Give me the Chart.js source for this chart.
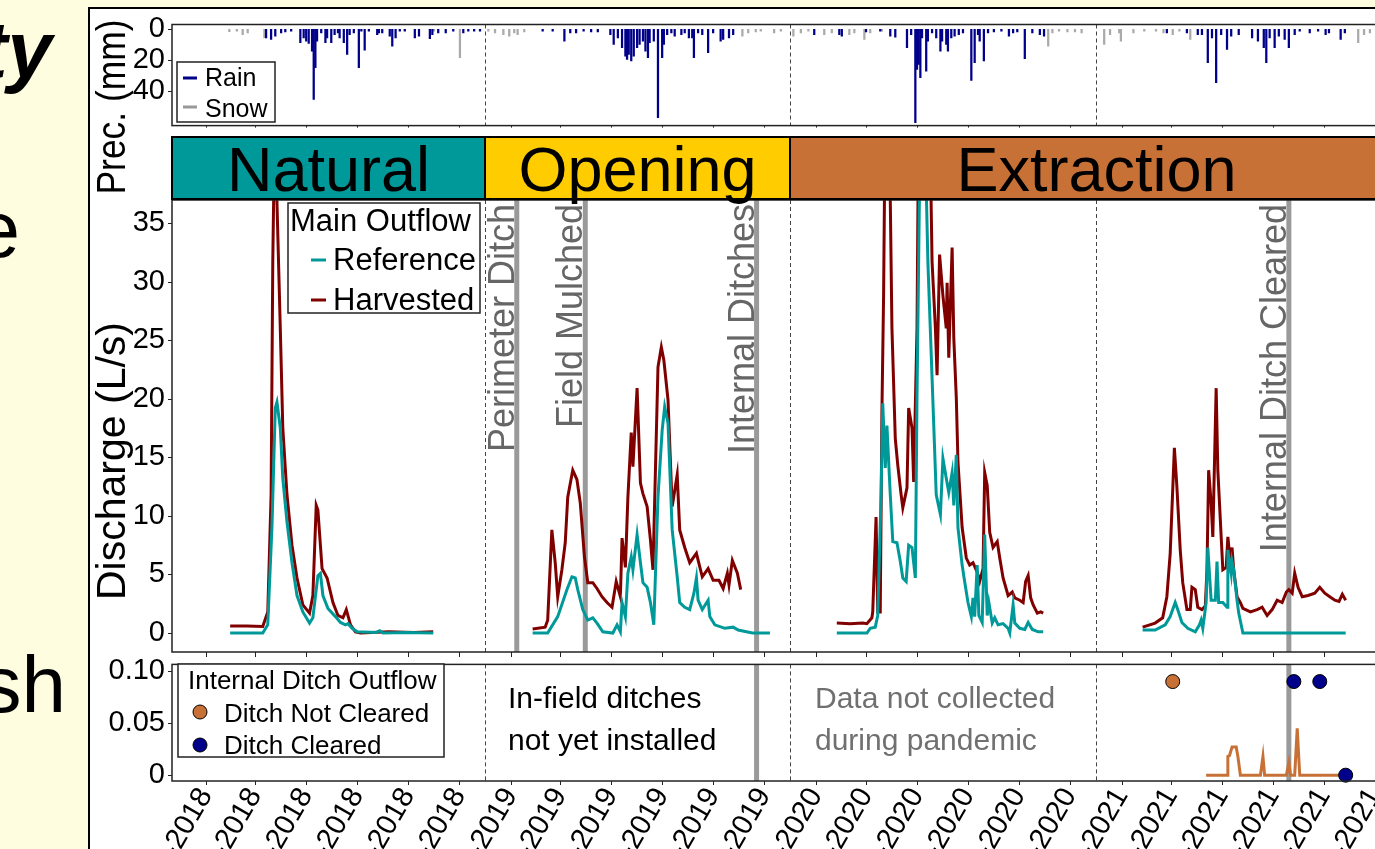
<!DOCTYPE html>
<html>
<head>
<meta charset="utf-8">
<script src="https://cdn.jsdelivr.net/npm/chart.js@4.4.1/dist/chart.umd.min.js"></script>
<style>
  html, body { margin: 0; padding: 0; overflow: hidden; background: #fffde0; }
  #wrap { position: relative; width: 1375px; height: 849px; overflow: hidden; background: #fffde0;
          font-family: "Liberation Sans", Arial, sans-serif; }
  #fig { position: absolute; left: 88px; top: 7px; width: 1400px; height: 900px; background: #fff;
         border-left: 2px solid #000; border-top: 2px solid #000; }
  canvas { position: absolute; left: 0; }
  .slide { position: absolute; left: -400px; font-size: 80px; line-height: 80px; color: #000;
           white-space: nowrap; text-align: right; }
</style>
</head>
<body>
<div id="wrap">
  <div class="slide" style="top:10px; width:452px; font-weight:bold; font-style:italic;">ty</div>
  <div class="slide" style="top:190px; width:420px;">e</div>
  <div class="slide" style="top:645px; width:466px;">sh</div>
  <div id="fig"></div>
  <canvas id="precip" width="1420" height="150" style="top:0"></canvas>
  <canvas id="main" width="1420" height="680" style="top:0"></canvas>
  <canvas id="ditch" width="1420" height="300" style="top:640px"></canvas>
</div>
<script>
// x values are days since 1 Jan 2018
const DAY0 = Date.UTC(2018, 0, 1);
function dayOf(s) {
  const [y, m, d] = s.split('-').map(Number);
  return (Date.UTC(y, m - 1, d) - DAY0) / 864e5;
}
const X_MIN = -9.6, X_MAX = 1463.6;

const xTickDates = ['2018-02-01', '2018-04-01', '2018-06-01', '2018-08-01', '2018-10-01', '2018-12-01',
                    '2019-02-01', '2019-04-01', '2019-06-01', '2019-08-01', '2019-10-01', '2019-12-01',
                    '2020-02-01', '2020-04-01', '2020-06-01', '2020-08-01', '2020-10-01', '2020-12-01',
                    '2021-02-01', '2021-04-01', '2021-06-01', '2021-08-01', '2021-10-01', '2021-12-01'];
const xTickLabels = ['Feb-2018', 'Apr-2018', 'Jun-2018', 'Aug-2018', 'Oct-2018', 'Dec-2018',
                     'Feb-2019', 'Apr-2019', 'Jun-2019', 'Aug-2019', 'Oct-2019', 'Dec-2019',
                     'Feb-2020', 'Apr-2020', 'Jun-2020', 'Aug-2020', 'Oct-2020', 'Dec-2020',
                     'Feb-2021', 'Apr-2021', 'Jun-2021', 'Aug-2021', 'Oct-2021', 'Dec-2021'];
const yearLines = ['2019-01-01', '2020-01-01', '2021-01-01'];

const phaseLabels = ['Natural', 'Opening', 'Extraction'];
const phaseColors = ['#009999', '#ffcc00', '#c87137'];
const phaseEnds = ['2019-01-01', '2020-01-01', '2022-01-04'];

const eventLabels = ['Perimeter Ditch', 'Field Mulched', 'Internal Ditches', 'Internal Ditch Cleared'];
const eventDates = ['2019-02-08', '2019-05-01', '2019-11-22', '2021-08-20'];
const eventInDitchPanel = [false, false, true, true];

const precTicks = [0, 20, 40];
const qTicks = [0, 5, 10, 15, 20, 25, 30, 35];
const ditchTicks = [0, 0.05, 0.1];

// daily precipitation (mm) [day, mm]
const rain = [
  [103, 5.4], [109, 6.5], [114, 4.3], [121, 2.2], [126, 1.6], [133, 1.1], [144, 8.6], [148, 5.4], [151, 7.5],
  [154, 9.1], [158, 14], [160, 45.2], [162, 24.7], [164, 7.5], [169, 2.2], [174, 8.6], [176, 5.4], [181, 8.6],
  [185, 3.3], [189, 2.2], [191, 5.4], [196, 8.6], [200, 16.1], [203, 3.3], [208, 2.2], [214, 24.7], [217, 1.1],
  [221, 13.4], [226, 1.1], [236, 3.3], [238, 2.2], [242, 2.2], [251, 4.3], [254, 10.8], [258, 5.4], [263, 1.1],
  [269, 1.1], [281, 5.4], [286, 4.3], [299, 5.9], [302, 3.3], [309, 2.2], [318, 2.2], [327, 1.1], [339, 2.2],
  [345, 1.1], [352, 1.1], [359, 1.1],
  [434, 1.1], [446, 1.1], [460, 7.5], [467, 2.2], [474, 2.2], [483, 1.1], [492, 1.6], [500, 1.6], [515, 3.3],
  [519, 9.7], [524, 5.4], [529, 11.8], [533, 17.2], [535, 19.4], [537, 16.1], [540, 20.4], [543, 17.2],
  [547, 11.8], [550, 9.7], [554, 7.5], [557, 14], [560, 18.3], [562, 8.6], [567, 7.5], [572, 57], [577, 18.3],
  [579, 9.7], [583, 3.3], [588, 2.2], [592, 4.3], [600, 3.3], [604, 2.2], [609, 5.4], [613, 5.4], [615, 18.3],
  [620, 2.2], [625, 3.3], [632, 15], [638, 2.2], [647, 7.5], [650, 6.5], [657, 5.4], [662, 3.3],
  [759, 3.3], [789, 3.3], [792, 4.3], [821, 1.6], [838, 1.1], [850, 4.3], [856, 5], [870, 11.8], [875, 3.3],
  [880, 60.2], [882, 25.8], [884, 22.6], [886, 31.2], [888, 5.4], [893, 26.9], [895, 7.5], [900, 2.2],
  [905, 5.4], [910, 14], [912, 7.5], [917, 9.7], [919, 14], [923, 5.4], [927, 4.3], [932, 3.3], [937, 2.2],
  [947, 32.9], [951, 21.5], [955, 3.3], [957, 7.5], [962, 20.4], [967, 2.2], [974, 1.6], [983, 1.1],
  [992, 4.3], [997, 2.2], [1002, 1.6], [1011, 18.9], [1020, 2.2], [1029, 3.3], [1034, 4.3],
  [1181, 2.2], [1205, 2.2], [1218, 3.3], [1223, 3.3], [1230, 21.5], [1235, 5.4], [1240, 34.4], [1246, 3.3],
  [1253, 12.9], [1258, 4.3], [1267, 3.3], [1283, 5.4], [1290, 7.5], [1297, 11.8], [1300, 21.5], [1304, 5.4],
  [1310, 11.8], [1315, 4.3], [1322, 6.5], [1327, 11.8], [1334, 3.3], [1340, 1.1], [1352, 2.2], [1362, 1.1],
  [1371, 3.3], [1375, 2.2], [1389, 6.5], [1394, 2.2]
];
const snow = [
  [59, 1.5], [68, 1.1], [75, 3.3], [81, 2.2], [101, 5.4], [304, 1.1], [335, 18.3],
  [369, 1.1], [377, 2.2], [387, 3.3], [394, 4.3], [400, 2.2], [404, 3.3], [412, 1.6],
  [673, 4.3], [680, 2.2], [689, 1.6], [695, 1.1],
  [711, 2.2], [719, 1.1], [734, 4.3], [743, 2.2], [752, 1.1], [771, 3.3], [780, 2.2], [801, 3.3], [807, 2.2],
  [819, 6.5], [826, 2.2], [840, 1.1], [1039, 10.8], [1044, 2.2], [1052, 1.1], [1062, 1.6], [1071, 1.6], [1079, 2.2],
  [1106, 9.7], [1113, 3.3], [1124, 2.2], [1126, 7.5], [1141, 2.2], [1154, 1.1], [1168, 1.1], [1177, 2.2],
  [1188, 3.3], [1196, 1.1], [1209, 6.5], [1410, 8.6], [1417, 3.3], [1424, 2.2]
];

// main outflow discharge (L/s) [day, value]
const ref2018 = [[60, 0], [99, 0], [105, 0.7], [110, 9], [114, 19.2], [116, 19.7], [120, 17.5], [123, 13.2],
  [128, 9.5], [134, 6], [140, 3.2], [147, 1.8], [155, 0.85], [159, 1.3], [165, 4.9], [168, 5.1], [171, 3.2],
  [177, 2.1], [186, 1.4], [192, 0.9], [198, 0.7], [201, 0.8], [206, 0.4], [212, 0.1], [235, 0.05], [239, 0.2],
  [243, 0], [270, 0.05], [303, 0]];
const harv2018 = [[60, 0.6], [80, 0.6], [99, 0.55], [105, 1.8], [109, 11.8], [111, 31.6], [113, 42], [115, 44],
  [116, 36.8], [120, 26], [123, 17.5], [128, 11.8], [134, 7.5], [140, 4.7], [147, 2.4], [155, 1.7], [159, 3.2],
  [163, 10.9], [165, 10.5], [170, 5.5], [176, 4.7], [183, 2.6], [189, 1.5], [195, 1.3], [199, 2], [204, 0.7],
  [210, 0.1], [216, 0], [250, 0.1], [280, 0.05], [303, 0.1]];
const ref2019 = [[422, 0], [440, 0], [452, 1.4], [463, 3.7], [469, 4.8], [473, 4.7], [476, 3.7], [482, 2],
  [488, 1.1], [494, 1.3], [499, 0.85], [506, 0.1], [518, 0], [523, 0.7], [527, 0.1], [529, 2.6], [533, 1.4],
  [536, 5.1], [540, 6.5], [542, 5.4], [547, 8.4], [551, 6], [554, 4.3], [559, 3.9], [563, 2.6], [567, 0.7],
  [572, 11.6], [577, 17.3], [580, 19.3], [584, 17.9], [589, 8.8], [595, 4.8], [598, 2.6], [604, 2.2], [610, 2],
  [615, 3.4], [618, 4.7], [620, 2.8], [625, 2], [632, 2.8], [634, 1.4], [640, 0.7], [652, 0.4], [662, 0.5],
  [668, 0.25], [685, 0], [706, 0]];
const harv2019 = [[422, 0.35], [437, 0.5], [440, 1.1], [445, 8.8], [449, 6], [452, 3.1], [457, 5.4], [461, 7.7],
  [464, 11.6], [470, 13.9], [475, 13.1], [479, 11.1], [484, 6.5], [488, 4.3], [494, 4.3], [499, 3.8], [505, 3.1],
  [511, 2.6], [517, 2.2], [522, 4.4], [527, 3.1], [529, 8.1], [533, 5.6], [536, 11.6], [540, 17.1], [542, 14.2],
  [547, 20.9], [551, 12.8], [554, 11.9], [559, 10.8], [563, 7.9], [566, 5.4], [572, 22.7], [576, 24.4],
  [579, 23.3], [584, 19.9], [589, 10.8], [595, 13.5], [598, 8.8], [604, 7.3], [610, 6], [618, 6.8], [625, 4.8],
  [632, 5.5], [638, 4.5], [645, 4.5], [650, 3.8], [655, 5.1], [657, 4.1], [661, 6.2], [667, 5.1], [671, 3.7]];
const ref2020 = [[786, 0], [822, 0], [826, 0.4], [832, 0.5], [835, 1.5], [839, 11.8], [841, 19.6], [844, 14.1],
  [846, 17.7], [850, 11.8], [853, 7.8], [858, 7.7], [862, 6.1], [865, 4.7], [869, 4.4], [872, 7.5], [876, 7.3],
  [880, 4.7], [882, 20.3], [885, 38], [889, 45], [893, 38], [895, 31.7], [900, 21.8], [905, 11.8], [910, 10.1],
  [913, 14.9], [917, 13.2], [920, 12], [924, 13.7], [926, 10.9], [929, 15.2], [931, 9], [936, 5.8], [939, 4.4],
  [943, 2.6], [947, 1.4], [949, 3], [951, 1.4], [954, 5.8], [956, 1.5], [960, 0.9], [963, 8.4], [966, 1.5],
  [968, 2.6], [972, 0.85], [975, 1.3], [979, 0.7], [985, 0.8], [991, 0.4], [993, 0], [997, 2.4], [999, 0.85],
  [1005, 0.4], [1011, 0.3], [1015, 0.9], [1020, 0.3], [1027, 0.1], [1033, 0.1]];
const harv2020 = [[786, 0.85], [802, 0.8], [817, 0.85], [822, 0.8], [828, 1.3], [829, 1.8], [833, 9.9],
  [835, 1.8], [838, 1.8], [840, 18.9], [842, 28.8], [844, 45], [848, 48], [852, 26], [856, 16.6], [859, 14.3],
  [863, 11.8], [865, 10.7], [870, 12.4], [872, 19.2], [876, 17.5], [878, 12.9], [882, 26], [884, 45], [890, 55],
  [897, 45], [900, 31.7], [904, 26], [906, 22], [909, 32.3], [913, 28.8], [917, 26], [918, 29.9], [920, 23.5],
  [924, 32.9], [926, 25.2], [929, 20.1], [931, 14.6], [936, 9], [941, 6.4], [945, 5.8], [949, 6], [954, 5.2],
  [957, 4.4], [961, 5.5], [963, 13.7], [966, 12.6], [969, 8.6], [973, 7.3], [978, 7.8], [981, 6.4], [985, 4.7],
  [991, 3.2], [996, 3.5], [999, 3], [1005, 2.8], [1009, 2.6], [1012, 4.4], [1015, 4.9], [1018, 3], [1021, 2.4],
  [1026, 1.7], [1030, 1.8], [1033, 1.7]];
const ref2021 = [[1152, 0.25], [1167, 0.25], [1179, 0.7], [1185, 1.4], [1191, 2.6], [1194, 2], [1199, 0.9],
  [1206, 0.4], [1215, 0.1], [1220, 0.7], [1222, 1.1], [1224, 0.4], [1228, 2.6], [1230, 7.3], [1234, 2.8],
  [1239, 2.8], [1241, 6.1], [1243, 2.6], [1248, 2.6], [1253, 2.2], [1254, 7.1], [1258, 5.1], [1259, 6.1],
  [1261, 5.4], [1265, 2.8], [1267, 1.7], [1272, 0], [1395, 0]];
const harv2021 = [[1152, 0.5], [1167, 0.85], [1176, 1.3], [1181, 3.1], [1185, 6.8], [1190, 15.8], [1193, 12.5],
  [1197, 7.1], [1200, 4.3], [1205, 2], [1209, 2], [1211, 3.9], [1215, 3.7], [1218, 2.2], [1223, 2], [1227, 2.3],
  [1229, 5.4], [1231, 13.9], [1234, 11.1], [1236, 8.2], [1240, 20.9], [1242, 13.9], [1246, 8.2], [1248, 5.4],
  [1252, 5.6], [1254, 8.2], [1257, 6], [1259, 7.3], [1261, 5.4], [1265, 3.1], [1269, 2.6], [1272, 2.1],
  [1281, 1.8], [1289, 2], [1295, 2.2], [1301, 1.5], [1307, 2], [1313, 2.8], [1319, 2.6], [1324, 3.5],
  [1327, 3.7], [1331, 3.4], [1334, 5.1], [1338, 3.9], [1343, 3.1], [1350, 3.2], [1358, 3.4], [1364, 3.9],
  [1370, 3.4], [1376, 3.1], [1382, 2.8], [1387, 2.7], [1391, 3.3], [1395, 2.8]];

// internal ditch outflow (L/s)
const ditchNotClearedLine = [[1228, 0], [1253, 0], [1254, 0.018], [1256, 0.019], [1259, 0.027], [1264, 0.027],
  [1266, 0.018], [1269, 0], [1293, 0], [1296, 0.018], [1298, 0], [1324, 0], [1327, 0.012], [1329, 0],
  [1334, 0], [1337, 0.045], [1340, 0], [1388, 0]];
const ditchNotClearedPts = [[1188, 0.09]];
const ditchClearedPts = [[1333, 0.09], [1364, 0.09], [1395, 0]];

const FONT = '"Liberation Sans", Arial, sans-serif';
const TEAL = '#009999', MAROON = '#800000', NAVY = '#00008b', ORANGE = '#c87137';

function pts(arr) { return arr.map(([x, y]) => ({ x: x, y: y })); }
function seasons(list) {
  let out = [];
  list.forEach((s, i) => {
    if (i > 0) out.push({ x: s[0][0] - 1, y: null });
    out = out.concat(pts(s));
  });
  return out;
}
function fixWidth(scale) { scale.width = 172; }
function fixedTicks(values) { return scale => { scale.ticks = values.map(v => ({ value: v })); }; }
function xOf(chart, day) { return chart.scales.x.getPixelForValue(day); }

function drawYearLines(chart) {
  const { ctx, chartArea: a } = chart;
  ctx.save();
  ctx.strokeStyle = '#444';
  ctx.lineWidth = 1;
  ctx.setLineDash([4, 3]);
  yearLines.forEach(d => {
    const x = Math.round(xOf(chart, dayOf(d))) + 0.5;
    ctx.beginPath(); ctx.moveTo(x, a.top); ctx.lineTo(x, a.bottom); ctx.stroke();
  });
  ctx.restore();
}
function drawEventLines(chart, onlyDitch) {
  const { ctx, chartArea: a } = chart;
  ctx.save();
  ctx.strokeStyle = '#9a9a9a';
  ctx.lineWidth = 5;
  eventDates.forEach((d, i) => {
    if (onlyDitch && !eventInDitchPanel[i]) return;
    const x = xOf(chart, dayOf(d));
    ctx.beginPath(); ctx.moveTo(x, a.top); ctx.lineTo(x, a.bottom); ctx.stroke();
  });
  ctx.restore();
}
function drawFrame(chart, ticksDown, yTicks) {
  const { ctx, chartArea: a } = chart;
  ctx.save();
  ctx.strokeStyle = '#222';
  ctx.lineWidth = 1.5;
  ctx.strokeRect(a.left, a.top, a.right - a.left, a.bottom - a.top);
  ctx.lineWidth = 1;
  ctx.beginPath();
  xTickDates.forEach(d => {
    const x = Math.round(xOf(chart, dayOf(d))) + 0.5;
    ctx.moveTo(x, a.bottom); ctx.lineTo(x, a.bottom + ticksDown);
  });
  yTicks.forEach(v => {
    const y = Math.round(chart.scales.y.getPixelForValue(v)) + 0.5;
    ctx.moveTo(a.left - 4, y); ctx.lineTo(a.left, y);
  });
  ctx.stroke();
  ctx.restore();
}
function legendBox(ctx, x, y, w, h) {
  ctx.fillStyle = '#fff';
  ctx.fillRect(x, y, w, h);
  ctx.strokeStyle = '#222';
  ctx.lineWidth = 1.5;
  ctx.strokeRect(x, y, w, h);
}
function dash(ctx, x1, x2, y, color) {
  ctx.strokeStyle = color;
  ctx.lineWidth = 3;
  ctx.beginPath(); ctx.moveTo(x1, y); ctx.lineTo(x2, y); ctx.stroke();
}
function fittedVertical(ctx, text, cx, cy, len, size) {
  ctx.save();
  ctx.font = size + 'px ' + FONT;
  const w = ctx.measureText(text).width;
  ctx.translate(cx, cy);
  ctx.rotate(-Math.PI / 2);
  ctx.scale(len / w, 1);
  ctx.fillStyle = '#000';
  ctx.textAlign = 'center';
  ctx.textBaseline = 'alphabetic';
  ctx.fillText(text, 0, 0);
  ctx.restore();
}

const commonX = { type: 'linear', min: X_MIN, max: X_MAX, display: false, offset: false };
const yTickFont = { size: 29, family: FONT };

// ---------- precipitation ----------
new Chart(document.getElementById('precip'), {
  type: 'bar',
  data: {
    datasets: [
      { label: 'Rain', data: pts(rain), backgroundColor: NAVY, barThickness: 1.6 },
      { label: 'Snow', data: pts(snow), backgroundColor: '#aaaaaa', barThickness: 1.6 }
    ]
  },
  options: {
    responsive: false,
    animation: false,
    layout: { padding: { top: 24.5, bottom: 23.5, left: 0, right: 17 } },
    plugins: { legend: { display: false }, tooltip: { enabled: false } },
    datasets: { bar: { grouped: false } },
    scales: {
      x: commonX,
      y: {
        reverse: true, min: -3.2, max: 62.1,
        afterFit: fixWidth, afterBuildTicks: fixedTicks(precTicks),
        grid: { display: false, drawTicks: false }, border: { display: false },
        ticks: { font: yTickFont, color: '#000', padding: 7 }
      }
    }
  },
  plugins: [{
    id: 'precDeco',
    beforeDatasetsDraw(chart) { drawYearLines(chart); },
    afterDraw(chart) {
      const ctx = chart.ctx;
      drawFrame(chart, 2, precTicks);
      ctx.save();
      legendBox(ctx, 177, 62, 98, 60);
      dash(ctx, 183, 197, 78, NAVY);
      dash(ctx, 183, 197, 107, '#999');
      ctx.fillStyle = '#000';
      ctx.font = '25px ' + FONT;
      ctx.fillText('Rain', 205, 86);
      ctx.fillText('Snow', 205, 117);
      ctx.restore();
    }
  }]
});

// ---------- main outflow discharge ----------
new Chart(document.getElementById('main'), {
  type: 'line',
  data: {
    datasets: [
      { label: 'Reference', data: seasons([ref2018, ref2019, ref2020, ref2021]), borderColor: TEAL },
      { label: 'Harvested', data: seasons([harv2018, harv2019, harv2020, harv2021]), borderColor: MAROON }
    ]
  },
  options: {
    responsive: false,
    animation: false,
    layout: { padding: { top: 200, bottom: 28, left: 0, right: 17 } },
    plugins: { legend: { display: false }, tooltip: { enabled: false } },
    elements: { point: { radius: 0 }, line: { borderWidth: 3, tension: 0 } },
    spanGaps: false,
    scales: {
      x: commonX,
      y: {
        min: -1.62, max: 36.96,
        afterFit: fixWidth, afterBuildTicks: fixedTicks(qTicks),
        grid: { display: false, drawTicks: false }, border: { display: false },
        ticks: { font: yTickFont, color: '#000', padding: 7 }
      }
    }
  },
  plugins: [{
    id: 'mainDeco',
    beforeDatasetsDraw(chart) {
      drawYearLines(chart);
      drawEventLines(chart, false);
    },
    afterDraw(chart) {
      const { ctx, chartArea: a } = chart;
      drawFrame(chart, 5, qTicks);
      ctx.save();
      // phase band
      let start = a.left;
      phaseLabels.forEach((lab, i) => {
        const end = Math.min(xOf(chart, dayOf(phaseEnds[i])), a.right);
        ctx.fillStyle = phaseColors[i];
        ctx.fillRect(start, 137, end - start, 62);
        ctx.strokeStyle = '#000';
        ctx.lineWidth = 2;
        ctx.strokeRect(start, 137, end - start, 62);
        ctx.fillStyle = '#000';
        ctx.font = '63px ' + FONT;
        ctx.textAlign = 'center';
        ctx.fillText(lab, (start + end) / 2, 191);
        start = end;
      });
      // event labels
      ctx.fillStyle = '#666';
      ctx.font = '36px ' + FONT;
      eventLabels.forEach((lab, i) => {
        const x = xOf(chart, dayOf(eventDates[i])) - 3;
        ctx.save();
        ctx.translate(x, a.top + 4);
        ctx.rotate(-Math.PI / 2);
        ctx.textAlign = 'right';
        ctx.fillText(lab, 0, 0);
        ctx.restore();
      });
      // legend
      ctx.textAlign = 'left';
      legendBox(ctx, 288, 203, 192, 110);
      ctx.fillStyle = '#000';
      ctx.font = '31px ' + FONT;
      ctx.fillText('Main Outflow', 290, 231);
      ctx.fillText('Reference', 333, 270);
      ctx.fillText('Harvested', 333, 310);
      dash(ctx, 311, 326, 260, TEAL);
      dash(ctx, 311, 326, 300, MAROON);
      ctx.restore();
      // axis titles
      fittedVertical(ctx, 'Prec. (mm)', 125, 107, 175, 40);
      fittedVertical(ctx, 'Discharge (L/s)', 125, 461, 278, 40);
    }
  }]
});

// ---------- internal ditch outflow ----------
new Chart(document.getElementById('ditch'), {
  type: 'line',
  data: {
    datasets: [
      { label: 'Ditch Not Cleared', data: pts(ditchNotClearedPts), showLine: false, pointRadius: 7,
        pointBackgroundColor: ORANGE, pointBorderColor: '#000', pointBorderWidth: 1, clip: false },
      { label: 'Ditch Cleared', data: pts(ditchClearedPts), showLine: false, pointRadius: 7,
        pointBackgroundColor: NAVY, pointBorderColor: '#000', pointBorderWidth: 1, clip: false },
      { label: 'Not Cleared flow', data: pts(ditchNotClearedLine), borderColor: ORANGE, borderWidth: 3,
        pointRadius: 0, tension: 0 }
    ]
  },
  options: {
    responsive: false,
    animation: false,
    layout: { padding: { top: 20, bottom: 0, left: 0, right: 17 } },
    plugins: { legend: { display: false }, tooltip: { enabled: false } },
    scales: {
      x: {
        type: 'linear', min: X_MIN, max: X_MAX,
        afterBuildTicks: fixedTicks(xTickDates.map(dayOf)),
        afterFit: s => { s.height = 159; },
        grid: { display: false, drawTicks: false }, border: { display: false },
        ticks: {
          autoSkip: false, minRotation: 60, maxRotation: 60, padding: 1,
          font: { size: 29, family: FONT }, color: '#000',
          callback: (v, i) => xTickLabels[i]
        }
      },
      y: {
        min: -0.0056, max: 0.1065,
        afterFit: fixWidth, afterBuildTicks: fixedTicks(ditchTicks),
        grid: { display: false, drawTicks: false }, border: { display: false },
        ticks: { font: yTickFont, color: '#000', padding: 7,
                 callback: v => (v === 0 ? '0' : v.toFixed(2)) }
      }
    }
  },
  plugins: [{
    id: 'ditchDeco',
    beforeDatasetsDraw(chart) {
      drawYearLines(chart);
      drawEventLines(chart, true);
    },
    afterDraw(chart) {
      const ctx = chart.ctx;
      drawFrame(chart, 4, ditchTicks);
      ctx.save();
      // legend (canvas top is at page y 640)
      legendBox(ctx, 178, 24, 266, 93);
      ctx.fillStyle = '#000';
      ctx.font = '26px ' + FONT;
      ctx.fillText('Internal Ditch Outflow', 188, 49);
      ctx.fillText('Ditch Not Cleared', 224, 82);
      ctx.fillText('Ditch Cleared', 224, 114);
      [[ORANGE, 72], [NAVY, 105]].forEach(([c, y]) => {
        ctx.beginPath();
        ctx.arc(200, y, 7, 0, Math.PI * 2);
        ctx.fillStyle = c; ctx.fill();
        ctx.strokeStyle = '#000'; ctx.lineWidth = 1; ctx.stroke();
      });
      // annotations
      ctx.font = '30px ' + FONT;
      ctx.fillStyle = '#000';
      ctx.fillText('In-field ditches', 508, 68);
      ctx.fillText('not yet installed', 508, 110);
      ctx.fillStyle = '#707070';
      ctx.fillText('Data not collected', 815, 68);
      ctx.fillText('during pandemic', 815, 110);
      ctx.restore();
    }
  }]
});
</script>
</body>
</html>
